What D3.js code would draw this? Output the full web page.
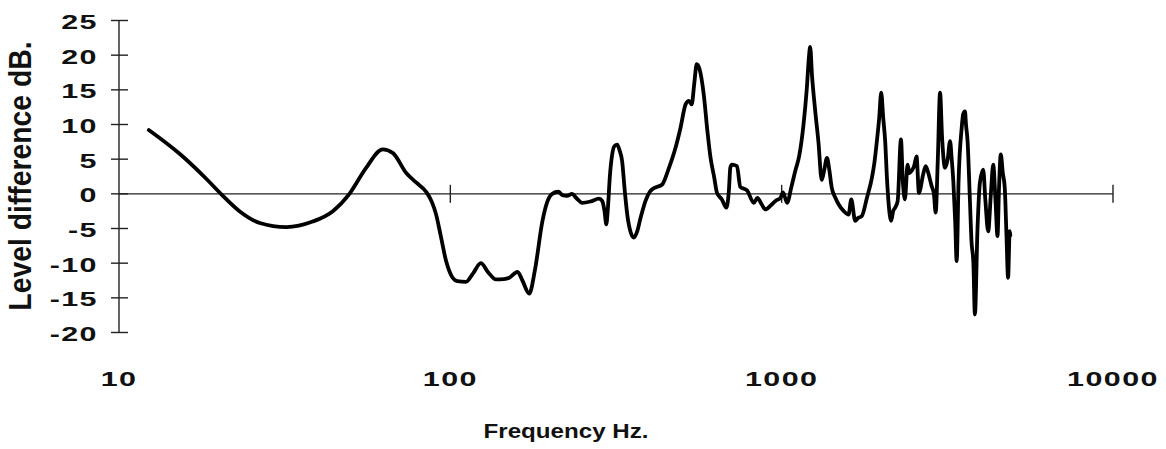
<!DOCTYPE html>
<html>
<head>
<meta charset="utf-8">
<script src="https://cdn.jsdelivr.net/npm/d3@7"></script>
<style>
  body { margin: 0; background: #fff; }
  text { font-family: Arial, "Liberation Sans", Helvetica, sans-serif; font-weight: bold; fill: #111; }
</style>
</head>
<body>
<svg id="chart" width="1166" height="449"></svg>
<script>
// frequency (Hz) and level difference (dB)
let freq = [
  12.3, 15.3, 18.4, 20.4, 23.1, 26.6, 32, 38.4, 44.2, 49.6,
  55.7, 62.5, 67, 73.6, 79, 84.5, 88, 90.6, 93.5, 97.1,
  101.6, 105, 111.5, 117, 123.6, 130, 137.3, 145, 150.6, 159.5,
  165, 173, 180, 189.7, 196, 203, 211.8, 218, 225, 233,
  240, 250, 265, 281, 287.5, 292, 295.6, 299, 303, 308,
  313, 319, 324, 330, 336, 342, 350, 358, 366, 375,
  388, 400, 411, 436, 455, 478, 495, 513, 525, 535,
  545, 554, 565, 582, 597, 610, 625, 638, 660, 681,
  693, 700, 708, 733, 750, 786, 824, 845, 870, 893,
  930, 960, 991, 1010, 1038, 1070, 1099, 1130, 1164, 1190,
  1210, 1219, 1235, 1263, 1291, 1321, 1345, 1370, 1392, 1416,
  1450, 1485, 1540, 1592, 1622, 1667, 1700, 1746, 1808, 1872,
  1905, 1938, 1970, 1997, 2025, 2053, 2080, 2100, 2140, 2170,
  2200, 2239, 2291, 2320, 2355, 2399, 2430, 2467, 2510, 2553,
  2596, 2673, 2720, 2758, 2836, 2880, 2916, 2960, 3006, 3050,
  3112, 3170, 3222, 3260, 3297, 3340, 3374, 3420, 3494, 3530,
  3575, 3600, 3640, 3700, 3740, 3790, 3830, 3900, 3965, 4057,
  4120, 4200, 4280, 4350, 4420, 4481, 4530, 4585, 4650, 4713,
  4770, 4823, 4878, 4900
];
let level = [
  9.2, 5.7, 2.1, -0.1, -2.5, -4.2, -4.8, -4.0, -2.5, 0,
  3.75, 6.4, 5.9, 3.0, 1.6, 0.3, -1.2, -3.0, -6.0, -9.7,
  -12.1, -12.6, -12.7, -11.5, -10.0, -11.3, -12.35, -12.3, -12.1, -11.25,
  -12.5, -14.4, -11, -3.9, -1.2, 0, 0.3, -0.2, -0.3, 0,
  -0.6, -1.3, -1.1, -0.7, -1.05, -2.5, -4.4, -2.0, 2.5, 5.7,
  6.9, 7.1, 6.3, 4.7, 0.5, -3.0, -5.5, -6.3, -5.5, -3.5,
  -1.05, 0.3, 0.8, 1.35, 3.5, 6.6, 9.5, 12.9, 13.4, 12.9,
  16, 18.7, 18, 14.3, 9, 5.2, 2.5, 0.15, -0.8, -2.0,
  0.5, 3.8, 4.2, 4.0, 1.0, 0.5, -1.3, -0.6, -1.5, -2.25,
  -1.6, -1.0, -0.6, 0.2, -1.3, 1.0, 3.3, 5.5, 10.0, 15,
  20, 21.2, 17, 11.9, 7.5, 2.0, 3.5, 5.2, 3.5, 0.9,
  -0.5, -1.5, -2.5, -3.0, -0.8, -3.9, -3.5, -3.2, -0.6, 2.3,
  4.5, 7.6, 11, 14.6, 11, 7.6, 2, -1.05, -3.9, -2.5,
  -2.0, -1.05, 7.85, 2, -0.8, 4.2, 3.0, 3.3, 4, 5.4,
  0.15, 2.8, 4, 3.3, 1.1, 0, -2.7, 5, 14.6, 8,
  3.75, 5, 7.6, 5, 1.8, -4, -9.7, 2, 9.5, 11.5,
  11.9, 10, 7.6, -1, -6.8, -10, -17.4, -5, 1.6, 3.5,
  -1, -5.4, 0, 4.2, -1, -6.1, 1, 5.7, 3, 0.9,
  -6, -12.1, -5.4, -6
];

let xTicks = [10, 100, 1000, 10000];
let yTicks = [25, 20, 15, 10, 5, 0, -5, -10, -15, -20];

let svg = d3.select("#chart");

let x = d3.scaleLog().domain([10, 10000]).range([119, 1113]);
let y = d3.scaleLinear().domain([-20, 25]).range([332.5, 20.5]);

let STRETCH = 1.45;

// vertical axis
svg.append("line")
  .attr("x1", x(10)).attr("x2", x(10))
  .attr("y1", y(25)).attr("y2", y(-20))
  .attr("stroke", "#222").attr("stroke-width", 1.4);

svg.selectAll(".ytick")
  .data(yTicks)
  .enter()
  .append("line")
  .attr("class", "ytick")
  .attr("x1", x(10) - 8).attr("x2", x(10) + 9)
  .attr("y1", function(d) { return y(d); })
  .attr("y2", function(d) { return y(d); })
  .attr("stroke", "#222").attr("stroke-width", 1.4);

svg.selectAll(".ylab")
  .data(yTicks)
  .enter()
  .append("text")
  .attr("class", "ylab")
  .attr("text-anchor", "end")
  .attr("font-size", 21)
  .attr("letter-spacing", 1)
  .attr("transform", function(d) {
    return "translate(98," + (y(d) + 8.5) + ") scale(" + STRETCH + ",1)";
  })
  .text(function(d) { return d; });

// zero line
svg.append("line")
  .attr("x1", x(10)).attr("x2", x(10000))
  .attr("y1", y(0)).attr("y2", y(0))
  .attr("stroke", "#222").attr("stroke-width", 1.4);

svg.selectAll(".xtick")
  .data(xTicks.slice(1))
  .enter()
  .append("line")
  .attr("class", "xtick")
  .attr("x1", function(d) { return x(d); })
  .attr("x2", function(d) { return x(d); })
  .attr("y1", y(0) - 9).attr("y2", y(0) + 9)
  .attr("stroke", "#222").attr("stroke-width", 1.4);

svg.selectAll(".xlab")
  .data(xTicks)
  .enter()
  .append("text")
  .attr("class", "xlab")
  .attr("text-anchor", "middle")
  .attr("font-size", 21)
  .attr("letter-spacing", 1)
  .attr("transform", function(d) {
    return "translate(" + x(d) + ",386) scale(" + STRETCH + ",1)";
  })
  .text(function(d) { return d; });

// axis titles
svg.append("text")
  .attr("text-anchor", "middle")
  .attr("font-size", 21)
  .attr("transform", "translate(566,438) scale(1.15,1)")
  .text("Frequency Hz.");

svg.append("text")
  .attr("text-anchor", "middle")
  .attr("font-size", 21)
  .attr("transform", "translate(31,176) rotate(-90) scale(1.35," + STRETCH + ")")
  .text("Level difference dB.");

// the curve
let pts = freq.map(function(f, i) { return [f, level[i]]; });

let line = d3.line()
  .x(function(d) { return x(d[0]); })
  .y(function(d) { return y(d[1]); })
  .curve(d3.curveMonotoneX);

svg.append("path")
  .datum(pts)
  .attr("d", line)
  .attr("fill", "none")
  .attr("stroke", "#000")
  .attr("stroke-width", 3.8)
  .attr("stroke-linejoin", "round")
  .attr("stroke-linecap", "round");
</script>
</body>
</html>
